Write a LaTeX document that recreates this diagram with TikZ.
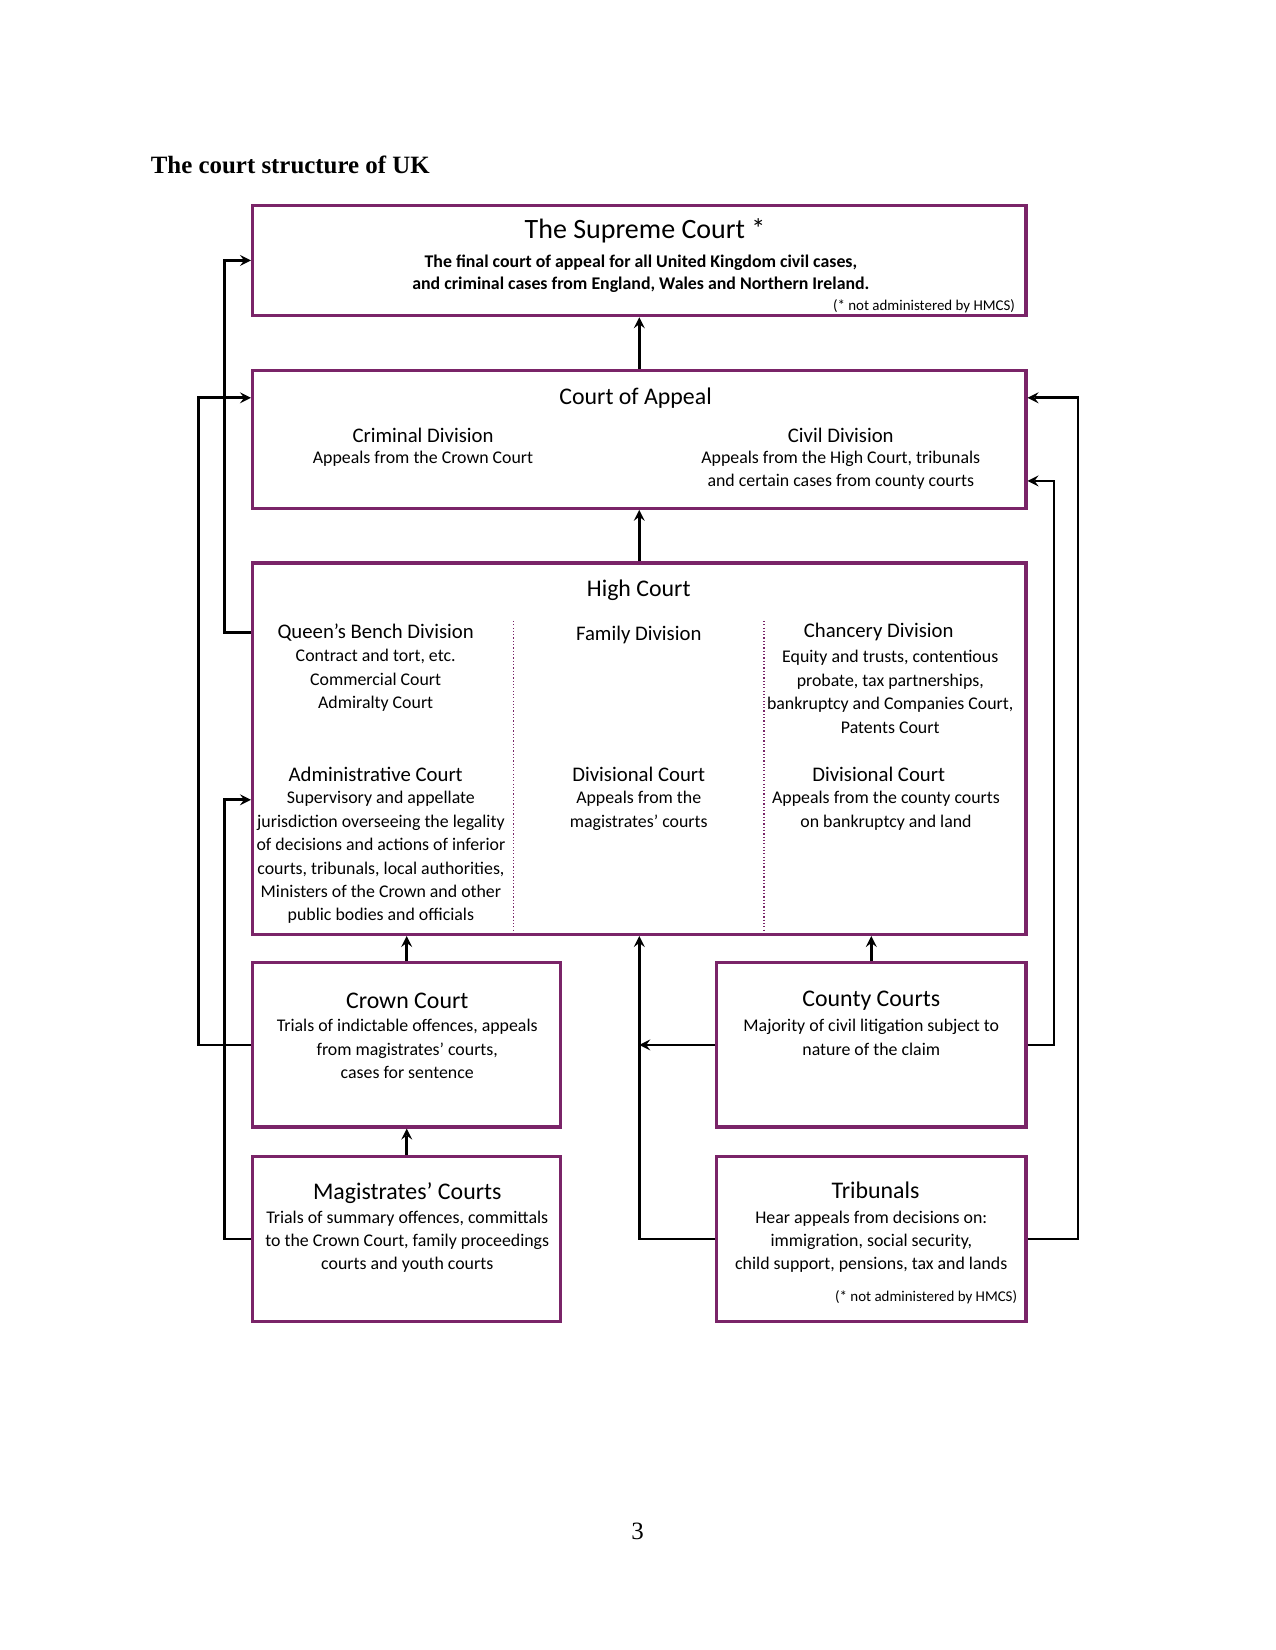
\documentclass[tikz,border=0pt]{standalone}
\usepackage{fontspec}
\setmainfont{Liberation Serif}
\newfontfamily\gill{Carlito}
\usetikzlibrary{fit}
\definecolor{courtpurple}{RGB}{122,36,104}
\tikzset{
  court/.style={draw=courtpurple, line width=1.5pt, inner sep=0pt},
  link/.style={line width=1.3pt},
  divider/.style={courtpurple, densely dotted, line width=0.6pt},
  head/.style={font=\gill\fontsize{11.5}{13}\selectfont, inner sep=0pt},
  subhead/.style={font=\gill\fontsize{10}{12}\selectfont, inner sep=0pt},
  body/.style={font=\gill\fontsize{8.6}{11.3}\selectfont, align=center, inner sep=0pt},
  note/.style={font=\gill\fontsize{7.2}{8}\selectfont, inner sep=0pt, anchor=east}
}
\begin{document}
\begin{tikzpicture}[x=0.007014in, y=-0.007014in, >=stealth]
  \useasboundingbox (0,0) rectangle (1212,1568);
  \node[font=\bfseries\fontsize{12}{14}\selectfont, anchor=west, inner sep=0pt] (title) at (143,157) {The court structure of UK};
  \node[font=\fontsize{12}{14}\selectfont, inner sep=0pt] (page) at (606,1455) {3};

  \node[court, fit={(240,195) (975,300)}] (sc) {};
  \node[court, fit={(240,352) (975,483)}] (coa) {};
  \node[court, fit={(240,535) (975,888)}] (hc) {};
  \node[court, fit={(240,915) (533,1071)}] (crown) {};
  \node[court, fit={(681,915) (975,1071)}] (county) {};
  \node[court, fit={(240,1099) (533,1256)}] (mag) {};
  \node[court, fit={(681,1099) (975,1256)}] (trib) {};

  \draw[divider] (488,590) -- (488,887);
  \draw[divider] (726,590) -- (726,887);

  \node[head, font=\gill\fontsize{13.5}{15}\selectfont] (scTitle) at (613,219) {The Supreme Court *};
  \node[body, font=\gill\bfseries\fontsize{8.6}{10.6}\selectfont] (scTxt) at (609,260.5) {The final court of appeal for all United Kingdom civil cases,\\and criminal cases from England, Wales and Northern Ireland.};
  \node[note] (scNote) at (965,291) {(* not administered by HMCS)};

  \node[head] (coaTitle) at (604,378) {Court of Appeal};
  \node[subhead] (crimHead) at (402,414) {Criminal Division};
  \node[body] (crimTxt) at (402,436) {Appeals from the Crown Court};
  \node[subhead] (civHead) at (799,414) {Civil Division};
  \node[body] (civTxt) at (799,447) {Appeals from the High Court, tribunals\\and certain cases from county courts};

  \node[head] (hcTitle) at (607,561) {High Court};
  \node[subhead] (qbHead) at (357,601) {Queen’s Bench Division};
  \node[body] (qbTxt) at (357,646.5) {Contract and tort, etc.\\Commercial Court\\Admiralty Court};
  \node[subhead] (famHead) at (607,603) {Family Division};
  \node[subhead] (chHead) at (835,601) {Chancery Division};
  \node[body] (chTxt) at (846,657.5) {Equity and trusts, contentious\\probate, tax partnerships,\\bankruptcy and Companies Court,\\Patents Court};
  \node[subhead] (admHead) at (357,736) {Administrative Court};
  \node[body] (admTxt) at (362,815) {Supervisory and appellate\\jurisdiction overseeing the legality\\of decisions and actions of inferior\\courts, tribunals, local authorities,\\Ministers of the Crown and other\\public bodies and officials};
  \node[subhead] (divHead) at (607,736) {Divisional Court};
  \node[body] (divTxt) at (607,770.5) {Appeals from the\\magistrates’ courts};
  \node[subhead] (chDivHead) at (835,736) {Divisional Court};
  \node[body] (chDivTxt) at (842,770.5) {Appeals from the county courts\\on bankruptcy and land};

  \node[head] (crownTitle) at (387,951) {Crown Court};
  \node[body] (crownTxt) at (387,997) {Trials of indictable offences, appeals\\from magistrates’ courts,\\cases for sentence};
  \node[head] (countyTitle) at (828,951) {County Courts};
  \node[body] (countyTxt) at (828,986) {Majority of civil litigation subject to\\nature of the claim};
  \node[head] (magTitle) at (387,1134) {Magistrates’ Courts};
  \node[body] (magTxt) at (387,1180) {Trials of summary offences, committals\\to the Crown Court, family proceedings\\courts and youth courts};
  \node[head] (tribTitle) at (832,1131) {Tribunals};
  \node[body] (tribTxt) at (828,1180) {Hear appeals from decisions on:\\immigration, social security,\\child support, pensions, tax and lands};
  \node[note] (tribNote) at (967,1233) {(* not administered by HMCS)};

  \draw[link,->] (coa.north) -- (sc.south);
  \draw[link,->] (hc.north) -- (coa.south);
  \draw[link,->] (crown.north) -- (crown.north |- hc.south);
  \draw[link,->] (county.north) -- (county.north |- hc.south);
  \draw[link,->] (mag.north) -- (crown.south);
  \draw[link,->] (hc.west |- qbHead) -- ++(-25,0) |- (sc.west);
  \draw[link,->] (crown.west) -- ++(-50,0) |- (coa.west |- coaTitle);
  \draw[link,->] (mag.west) -- ++(-25,0) |- (hc.west |- 0,760);
  \draw[link,->] (trib.west) -| (hc.south);
  \draw[link,->] (county.west) -- (hc.south |- county.west);
  \draw[link,->] (county.east) -- ++(25,0) |- (coa.east |- 0,457);
  \draw[link,->] (trib.east) -- ++(48,0) |- (coa.east |- coaTitle);
\end{tikzpicture}
\end{document}
